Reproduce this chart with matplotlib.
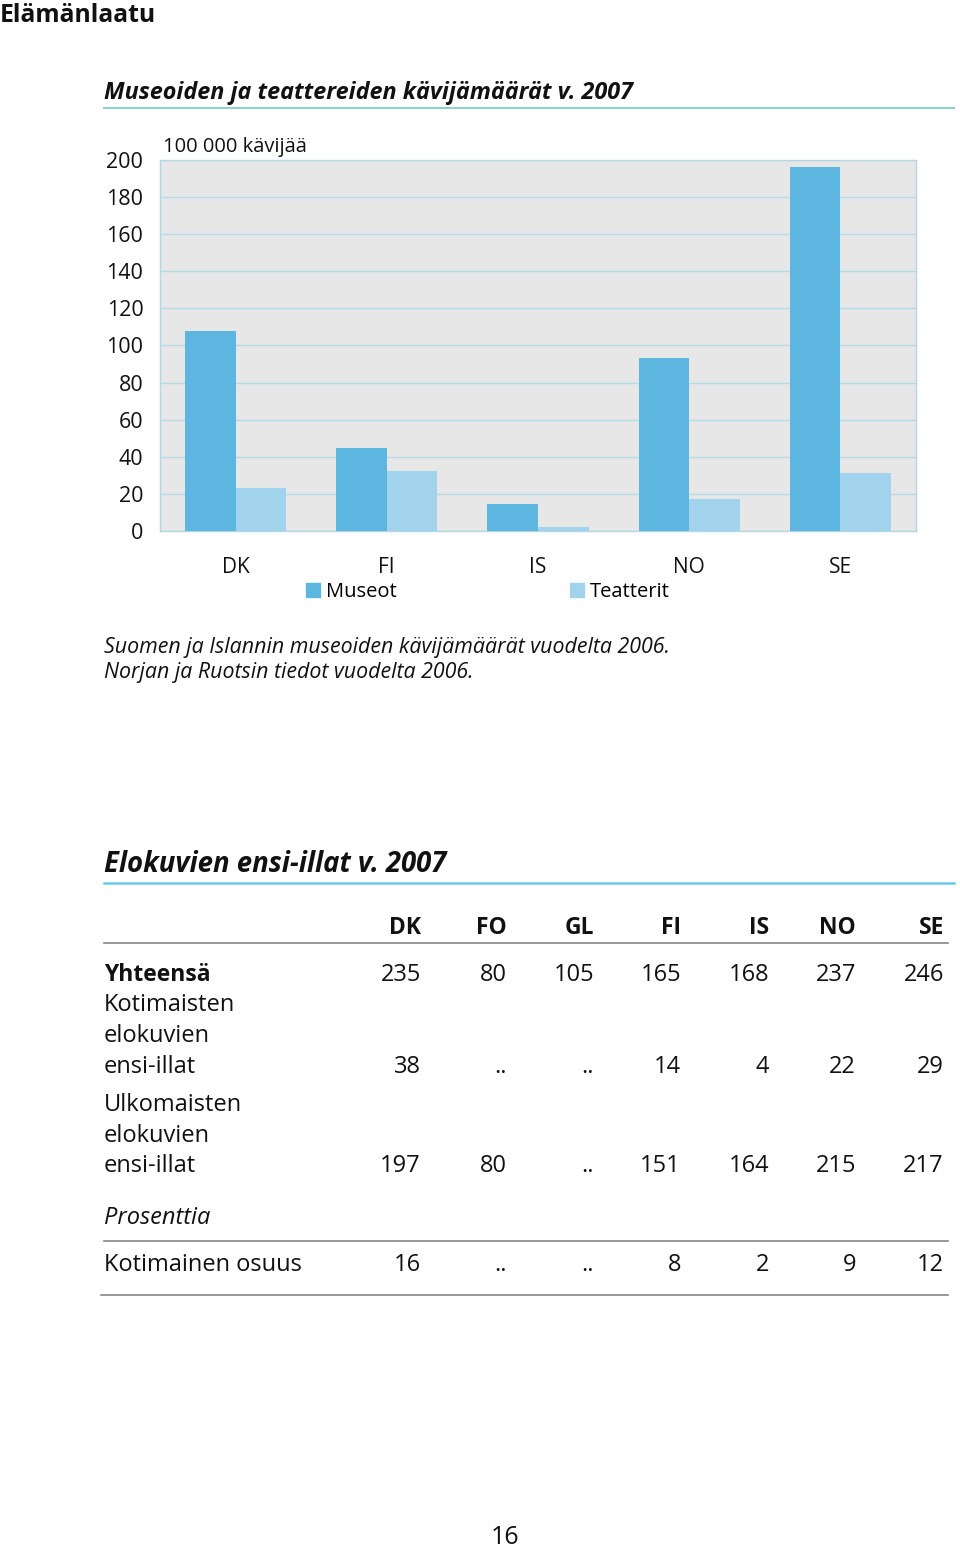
import matplotlib.pyplot as plt
from matplotlib.lines import Line2D
from matplotlib.patches import Patch
import numpy as np

plt.rcParams['font.family'] = ['Open Sans', 'DejaVu Sans']

W, H = 960, 1553

# bar chart data (100 000 visitors)
countries = ['DK', 'FI', 'IS', 'NO', 'SE']
museot = [108, 45, 14.5, 93, 196]
teatterit = [23, 32.5, 2.2, 17.5, 31.5]
yticks = [0, 20, 40, 60, 80, 100, 120, 140, 160, 180, 200]

# table data
tab_cols = ['DK', 'FO', 'GL', 'FI', 'IS', 'NO', 'SE']
yhteensa = ['235', '80', '105', '165', '168', '237', '246']
kotimaisten = ['38', '..', '..', '14', '4', '22', '29']
ulkomaisten = ['197', '80', '..', '151', '164', '215', '217']
osuus = ['16', '..', '..', '8', '2', '9', '12']

C_MUS = '#5cb6df'
C_TEA = '#a1d3ec'
INK = '#111111'


def fx(x):
    return x / W


def fy(y):
    return 1 - y / H


fig = plt.figure(figsize=(W / 100, H / 100), dpi=100)

fig.text(fx(0), fy(16), 'Elämänlaatu', fontsize=17.8, fontweight='bold',
         va='center', ha='left', color=INK)

# chart heading
fig.text(fx(104), fy(93), 'Museoiden ja teattereiden kävijämäärät v. 2007',
         fontsize=16.8, fontweight='bold', style='italic', va='center',
         ha='left', color=INK)
fig.add_artist(Line2D([fx(104), fx(954)], [fy(108), fy(108)],
                      transform=fig.transFigure, color='#8fd0d6', lw=1.5))

ax = fig.add_axes([fx(160), fy(531), fx(916) - fx(160), (531 - 160) / H])
ax.set_facecolor('#e7e7e8')
x = np.arange(len(countries)) + 0.5
bw = 0.335
ax.bar(x - bw / 2, museot, bw, color=C_MUS, zorder=3)
ax.bar(x + bw / 2, teatterit, bw, color=C_TEA, zorder=3)
ax.set_xlim(0, len(countries))
ax.set_ylim(0, 200)
ax.set_yticks(yticks)
ax.set_xticks(x)
ax.set_xticklabels(countries)
ax.yaxis.grid(True, color='#b8d9e6', lw=1, zorder=0)
ax.tick_params(length=0, colors=INK)
ax.tick_params(axis='y', pad=12, labelsize=15.5)
ax.tick_params(axis='x', pad=19, labelsize=15)
for s in ax.spines.values():
    s.set_color('#b5d6e3')
    s.set_linewidth(1)

fig.text(fx(163), fy(147), '100 000 kävijää', fontsize=14.5, va='center',
         ha='left', color=INK)

ax.legend([Patch(color=C_MUS), Patch(color=C_TEA)], ['Museot', 'Teatterit'],
          ncol=2, loc='center', bbox_to_anchor=(fx(488), fy(592)),
          bbox_transform=fig.transFigure, frameon=False, fontsize=14.5,
          handlelength=0.7, handleheight=0.7, handletextpad=0.3,
          columnspacing=8.6)

fig.text(fx(104), fy(647), 'Suomen ja Islannin museoiden kävijämäärät vuodelta 2006.',
         fontsize=15.4, style='italic', va='center', ha='left', color=INK)
fig.text(fx(104), fy(673), 'Norjan ja Ruotsin tiedot vuodelta 2006.',
         fontsize=15.4, style='italic', va='center', ha='left', color=INK)

# table heading
fig.text(fx(104), fy(865), 'Elokuvien ensi-illat v. 2007',
         fontsize=19.8, fontweight='bold', style='italic', va='center',
         ha='left', color=INK)
fig.add_artist(Line2D([fx(104), fx(954)], [fy(883), fy(883)],
                      transform=fig.transFigure, color='#6ccbe8', lw=1.8))

col_x = [421, 507, 594, 681, 769, 856, 944]
fs = 17
for cx, c in zip(col_x, tab_cols):
    fig.text(fx(cx), fy(928), c, fontsize=16.5, fontweight='bold', ha='right',
             va='center', color=INK)
fig.add_artist(Line2D([fx(104), fx(948)], [fy(943), fy(943)],
                      transform=fig.transFigure, color='#888888', lw=1.2))

fig.text(fx(104), fy(975), 'Yhteensä', fontsize=16.5, fontweight='bold',
         ha='left', va='center', color=INK)
for cx, v in zip(col_x, yhteensa):
    fig.text(fx(cx), fy(975), v, fontsize=fs, ha='right', va='center',
             color=INK)

for yy, t in zip([1005, 1036, 1067], ['Kotimaisten', 'elokuvien', 'ensi-illat']):
    fig.text(fx(104), fy(yy), t, fontsize=fs, ha='left', va='center',
             color=INK)
for cx, v in zip(col_x, kotimaisten):
    fig.text(fx(cx), fy(1067), v, fontsize=fs, ha='right', va='center',
             color=INK)

for yy, t in zip([1105, 1136, 1166], ['Ulkomaisten', 'elokuvien', 'ensi-illat']):
    fig.text(fx(104), fy(yy), t, fontsize=fs, ha='left', va='center',
             color=INK)
for cx, v in zip(col_x, ulkomaisten):
    fig.text(fx(cx), fy(1166), v, fontsize=fs, ha='right', va='center',
             color=INK)

fig.text(fx(104), fy(1218), 'Prosenttia', fontsize=fs, style='italic',
         ha='left', va='center', color=INK)
fig.add_artist(Line2D([fx(104), fx(948)], [fy(1241), fy(1241)],
                      transform=fig.transFigure, color='#888888', lw=1.2))
fig.text(fx(104), fy(1265), 'Kotimainen osuus', fontsize=fs, ha='left',
         va='center', color=INK)
for cx, v in zip(col_x, osuus):
    fig.text(fx(cx), fy(1265), v, fontsize=fs, ha='right', va='center',
             color=INK)
fig.add_artist(Line2D([fx(101), fx(948)], [fy(1295), fy(1295)],
                      transform=fig.transFigure, color='#888888', lw=1.2))

fig.text(fx(505), fy(1537), '16', fontsize=18, ha='center', va='center',
         color=INK)

fig.savefig('out.png', dpi=100)
